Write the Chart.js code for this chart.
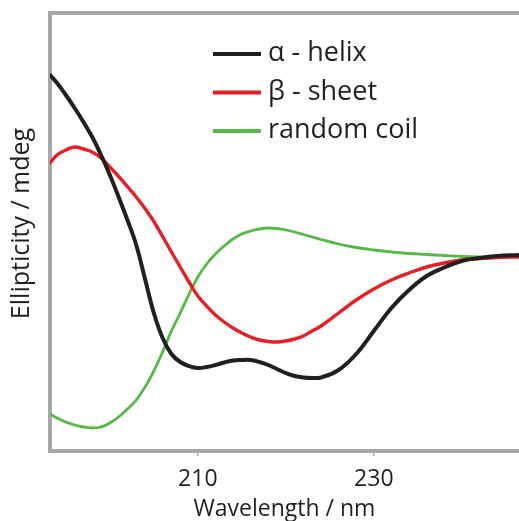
<!DOCTYPE html>
<html>
<head>
<meta charset="utf-8">
<script src="https://cdn.jsdelivr.net/npm/chart.js@4/dist/chart.umd.min.js"></script>
<style>
  html, body { margin: 0; padding: 0; background: #fff; }
  #wrap { width: 519px; height: 521px; position: relative; }
</style>
</head>
<body>
<div id="wrap"><canvas id="chart"></canvas></div>
<script>
// wavelength (nm) and ellipticity (arbitrary units)
const wavelength = [193.2,194,195,196,197,198,199,200,201,202,203,204,205,206,207,208,209,210,211,212,213,214,215,216,217,218,219,220,221,222,223,224,226,228,230,232,234,236,238,240,242,244,246.5];
const alphaHelix = [376,368,356,343,329,314,296,276,254,231,206,172,138,113,97,89,85,83,84,86,88.5,90.5,91,91,89,86,82,78,75,73.5,73,73.5,81,97,120,143,161,175,183.5,190,193,195,196];
const betaSheet = [288,296,301,304,302,299,293,284,274.5,264.5,254,242.5,229.5,214.5,199,184,169,155,145,136,129,123,118,114,111,109.5,109,110,112,115,120,125,138,151,162,171,178,184,188,191,192.5,193.5,194];
const randomCoil = [37,33,29,26,24,23,24,28,34,42,51,64,80,99,120,138,157,174,187,197,205,212,217,220,222,223,222.5,221,219,216.5,214,211.5,207,203.5,201,199,197.5,196.5,195.5,194.5,194,194,195];
const seriesNames = ['α - helix', 'β - sheet', 'random coil'];
const seriesColors = ['#231f20', '#e41f26', '#56b947'];
const xTicks = [210, 230];
const yTitle = 'Ellipticity / mdeg';

const FONT = "'Open Sans', 'DejaVu Sans', sans-serif";
const frameColor = '#a6a8ab';
const textColor = '#231f20';

function pts(vals){
  return wavelength.map((w, i) => ({x: w, y: vals[i]}));
}

// grey frame line along the top of the plot
const topFrame = {
  id: 'topFrame',
  beforeDatasetsDraw(chart){
    const {ctx, chartArea} = chart;
    ctx.save();
    ctx.strokeStyle = frameColor;
    ctx.lineWidth = 4;
    ctx.beginPath();
    ctx.moveTo(chartArea.left - 2, chartArea.top);
    ctx.lineTo(chart.width, chartArea.top);
    ctx.stroke();
    ctx.restore();
  }
};

// legend inside the plot + rotated y title
const labels = {
  id: 'labels',
  afterDraw(chart){
    const {ctx, chartArea} = chart;
    ctx.save();
    ctx.font = '27px ' + FONT;
    ctx.textBaseline = 'alphabetic';
    chart.data.datasets.forEach((ds, i) => {
      const base = chartArea.top + 48 + i * 38.5;
      ctx.strokeStyle = ds.borderColor;
      ctx.lineWidth = 4;
      ctx.beginPath();
      ctx.moveTo(213, base - 7);
      ctx.lineTo(261, base - 7);
      ctx.stroke();
      ctx.fillStyle = textColor;
      ctx.fillText(ds.label, 268, base);
    });

    ctx.translate(22, (chartArea.top + chartArea.bottom) / 2 - 8.5);
    ctx.rotate(-Math.PI / 2);
    ctx.font = '25px ' + FONT;
    ctx.textAlign = 'center';
    ctx.textBaseline = 'middle';
    ctx.fillText(yTitle, 0, 0);
    ctx.restore();
  }
};

const widths = [4, 3.4, 2.8];

new Chart(document.getElementById('chart'), {
  type: 'line',
  data: {
    datasets: [alphaHelix, betaSheet, randomCoil].map((vals, i) => ({
      label: seriesNames[i],
      data: pts(vals),
      borderColor: seriesColors[i],
      borderWidth: widths[i],
      pointRadius: 0,
      fill: false,
      tension: 0.4,
      borderCapStyle: 'round',
      borderJoinStyle: 'round'
    }))
  },
  options: {
    responsive: true,
    maintainAspectRatio: false,
    animation: false,
    layout: { padding: { top: 13, right: 0, left: 0, bottom: 0 } },
    plugins: { legend: { display: false }, tooltip: { enabled: false } },
    scales: {
      x: {
        type: 'linear',
        min: 193.2,
        max: 246.5,
        afterBuildTicks: s => { s.ticks = xTicks.map(v => ({value: v})); },
        afterFit: s => { s.height = 70; },
        grid: { display: true, drawOnChartArea: false, drawTicks: true, tickLength: 5, color: frameColor, lineWidth: 1.5 },
        border: { display: true, color: frameColor, width: 4 },
        ticks: { color: textColor, font: { family: FONT, size: 23 }, padding: 10, maxRotation: 0 },
        title: { display: true, text: 'Wavelength / nm', color: textColor, font: { family: FONT, size: 23, lineHeight: 1 }, padding: { top: 0, bottom: 0 } }
      },
      y: {
        min: 0,
        max: 438,
        afterFit: s => { s.width = 50; },
        grid: { display: false },
        border: { display: true, color: frameColor, width: 4 },
        ticks: { display: false },
        title: { display: false }
      }
    }
  },
  plugins: [topFrame, labels]
});
</script>
</body>
</html>
